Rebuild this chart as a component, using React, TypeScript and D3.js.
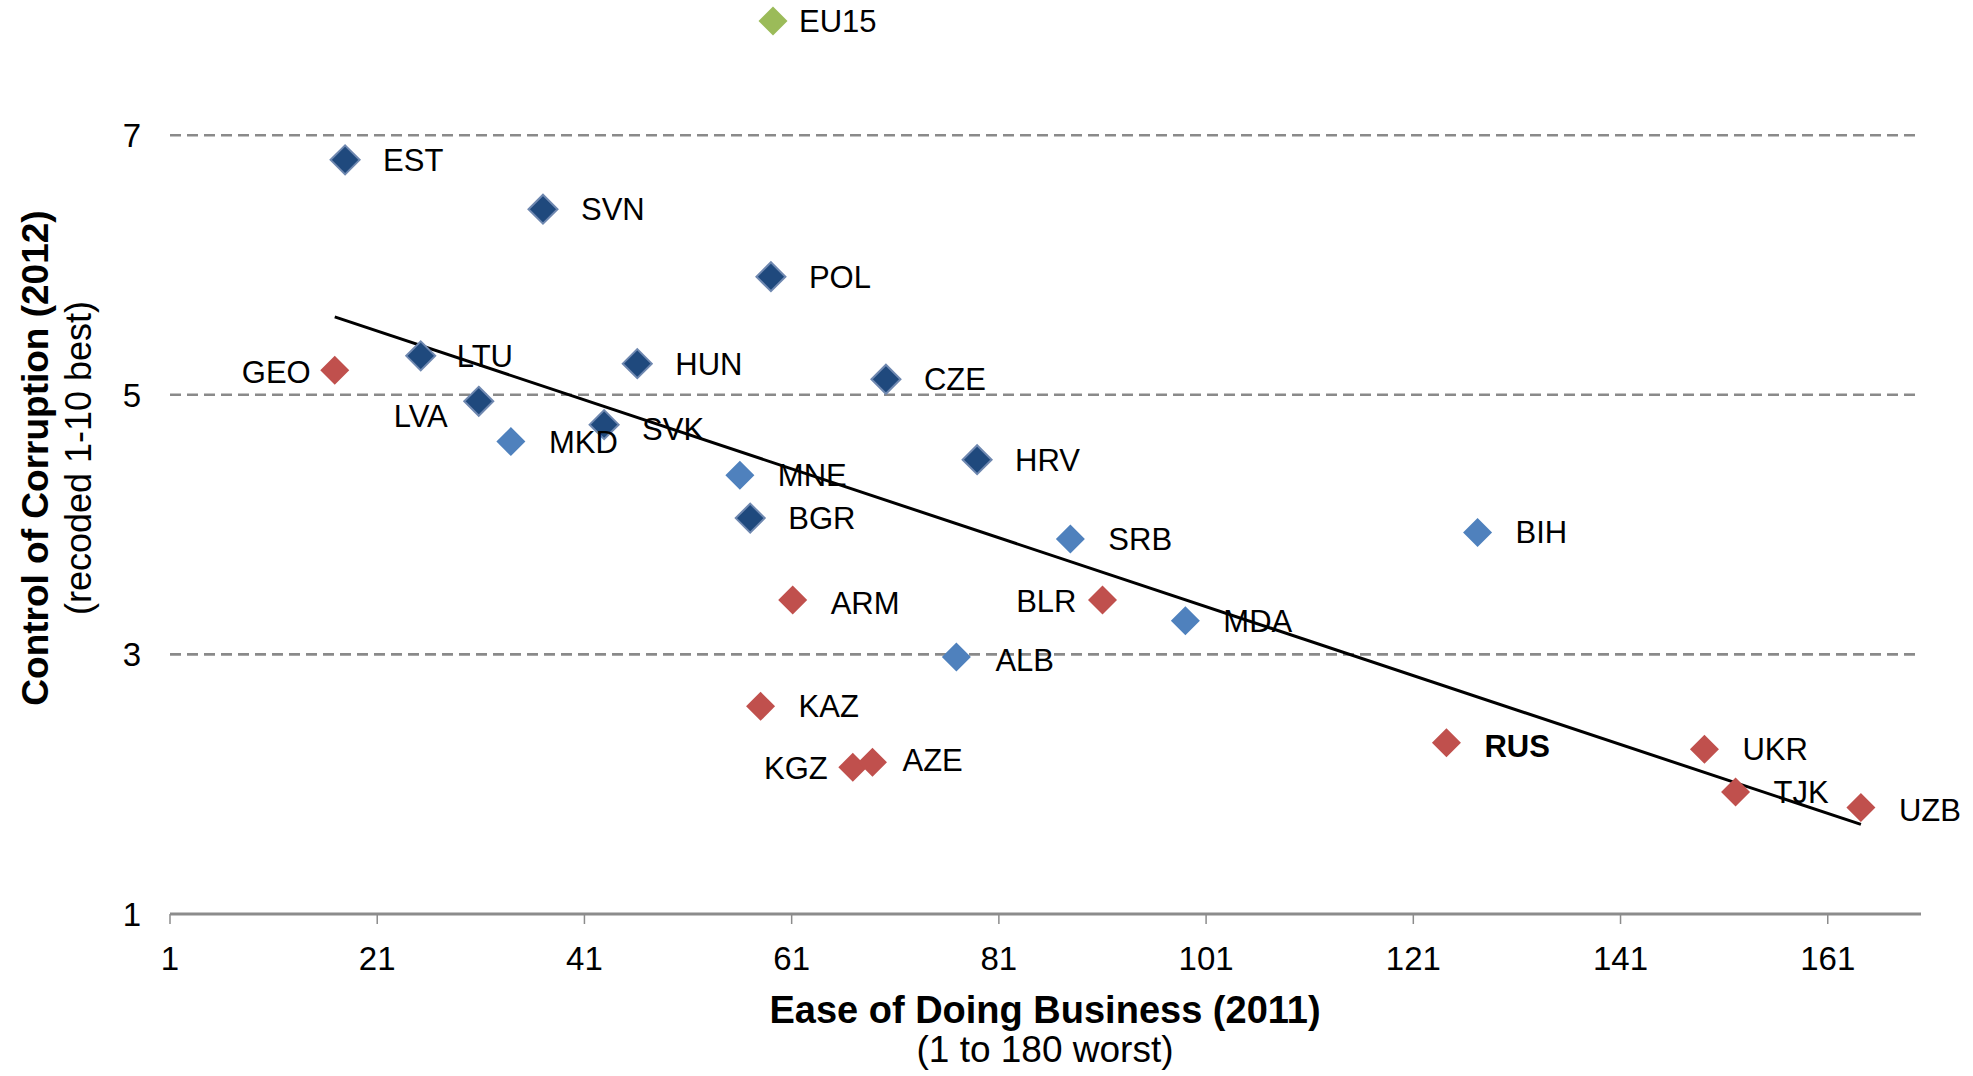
import React from 'react';
import * as d3 from 'd3';

// country codes, ease of doing business rank (2011), control of corruption (2012)
const countries = ['EU15', 'EST', 'SVN', 'POL', 'GEO', 'LTU', 'HUN', 'CZE', 'LVA', 'SVK', 'MKD', 'MNE', 'HRV', 'BGR', 'SRB', 'BIH', 'ARM', 'BLR', 'MDA', 'ALB', 'KAZ', 'KGZ', 'AZE', 'RUS', 'UKR', 'TJK', 'UZB'];
const business = [59.2, 17.9, 37.0, 59.0, 16.9, 25.2, 46.1, 70.1, 30.8, 42.9, 33.9, 56.0, 78.9, 57.0, 87.9, 127.2, 61.1, 91.0, 99.0, 76.9, 58.0, 66.9, 68.8, 124.2, 149.1, 152.1, 164.2];
const corruption = [7.88, 6.81, 6.43, 5.91, 5.19, 5.30, 5.24, 5.12, 4.95, 4.77, 4.64, 4.38, 4.50, 4.05, 3.89, 3.94, 3.42, 3.42, 3.26, 2.98, 2.60, 2.13, 2.17, 2.32, 2.27, 1.94, 1.82];
const groups = ['eu15', 'cee', 'cee', 'cee', 'cis', 'cee', 'cee', 'cee', 'cee', 'cee', 'see', 'see', 'cee', 'cee', 'see', 'see', 'cis', 'cis', 'see', 'see', 'cis', 'cis', 'cis', 'cis', 'cis', 'cis', 'cis'];

// linear trend at its two ends
const trendX = [16.9, 164.2];
const trendY = [5.6, 1.69];

const xTicks = [1, 21, 41, 61, 81, 101, 121, 141, 161];
const yTicks = [1, 3, 5, 7];
const gridTicks = [3, 5, 7];

const colors: Record<string, string> = {
  eu15: '#9BBB59',
  cee: '#1F497D',
  see: '#4F81BD',
  cis: '#C0504D',
};

// label placement (px offsets from the marker)
const labelPos: Record<string, { dx: number; dy: number; anchor?: string }> = {
  EU15: { dx: 26, dy: 11 },
  GEO: { dx: -24, dy: 13, anchor: 'end' },
  LVA: { dx: -31, dy: 26, anchor: 'end' },
  KGZ: { dx: -25, dy: 12, anchor: 'end' },
  BLR: { dx: -26, dy: 12, anchor: 'end' },
  LTU: { dx: 36, dy: 11 },
  SVK: { dx: 38, dy: 15 },
  AZE: { dx: 30, dy: 9 },
  ARM: { dx: 38, dy: 14 },
  ALB: { dx: 39, dy: 14 },
  RUS: { dx: 38, dy: 14 },
  UZB: { dx: 38, dy: 13 },
};

const W = 1973;
const H = 1076;
const font = '"Liberation Sans", Arial, sans-serif';

const App = () => {
  const x = d3.scaleLinear().domain([1, 170]).range([170, 1921]);
  const y = d3.scaleLinear().domain([1, 8]).range([914, 5.4]);

  const diamond = (cx: number, cy: number, r: number) =>
    `M${cx},${cy - r}L${cx + r},${cy}L${cx},${cy + r}L${cx - r},${cy}Z`;

  const trend = d3.line<number>()
    .x((d) => x(d))
    .y((d, i) => y(trendY[i]));

  return (
    <div style={{ position: 'absolute', left: 0, top: 0 }}>
      <svg width={W} height={H} style={{ display: 'block', background: '#fff' }} fontFamily={font}>
        {gridTicks.map((t) => (
          <line key={t} x1={x(1)} x2={x(170)} y1={y(t)} y2={y(t)}
            stroke="#8a8a8a" strokeWidth={2.6} strokeDasharray="11 6" />
        ))}
        <line x1={x(1)} x2={x(170)} y1={y(1)} y2={y(1)} stroke="#8c8c8c" strokeWidth={3} />
        {xTicks.map((t) => (
          <g key={t}>
            <line x1={x(t)} x2={x(t)} y1={y(1)} y2={y(1) + 10} stroke="#8c8c8c" strokeWidth={1.5} />
            <text x={x(t)} y={970} fontSize={33} textAnchor="middle" fill="#000">{t}</text>
          </g>
        ))}
        {yTicks.map((t) => (
          <text key={t} x={141} y={y(t) + 12} fontSize={33} textAnchor="end" fill="#000">{t}</text>
        ))}

        <path d={trend(trendX) || ''} stroke="#000" strokeWidth={3} fill="none" />

        {countries.map((c, i) => {
          const cx = x(business[i]);
          const cy = y(corruption[i]);
          const g = groups[i];
          const lp = labelPos[c] || { dx: 38, dy: 11 };
          return (
            <g key={c}>
              <path d={diamond(cx, cy, 14.5)} fill={colors[g]}
                stroke={g === 'cee' ? '#6f88b0' : 'none'} strokeWidth={g === 'cee' ? 2 : 0} />
              <text x={cx + lp.dx} y={cy + lp.dy} fontSize={31} textAnchor={lp.anchor || 'start'}
                fontWeight={c === 'RUS' ? 'bold' : 'normal'} fill="#000">{c}</text>
            </g>
          );
        })}

        <text x={1045} y={1023} fontSize={38} fontWeight="bold" textAnchor="middle">Ease of Doing Business (2011)</text>
        <text x={1045} y={1062} fontSize={37} textAnchor="middle">(1 to 180 worst)</text>
        <text transform="translate(48,458) rotate(-90)" fontSize={37} fontWeight="bold" textAnchor="middle">Control of Corruption (2012)</text>
        <text transform="translate(91,458) rotate(-90)" fontSize={36} textAnchor="middle">(recoded 1-10 best)</text>
      </svg>
    </div>
  );
};

export default App;
